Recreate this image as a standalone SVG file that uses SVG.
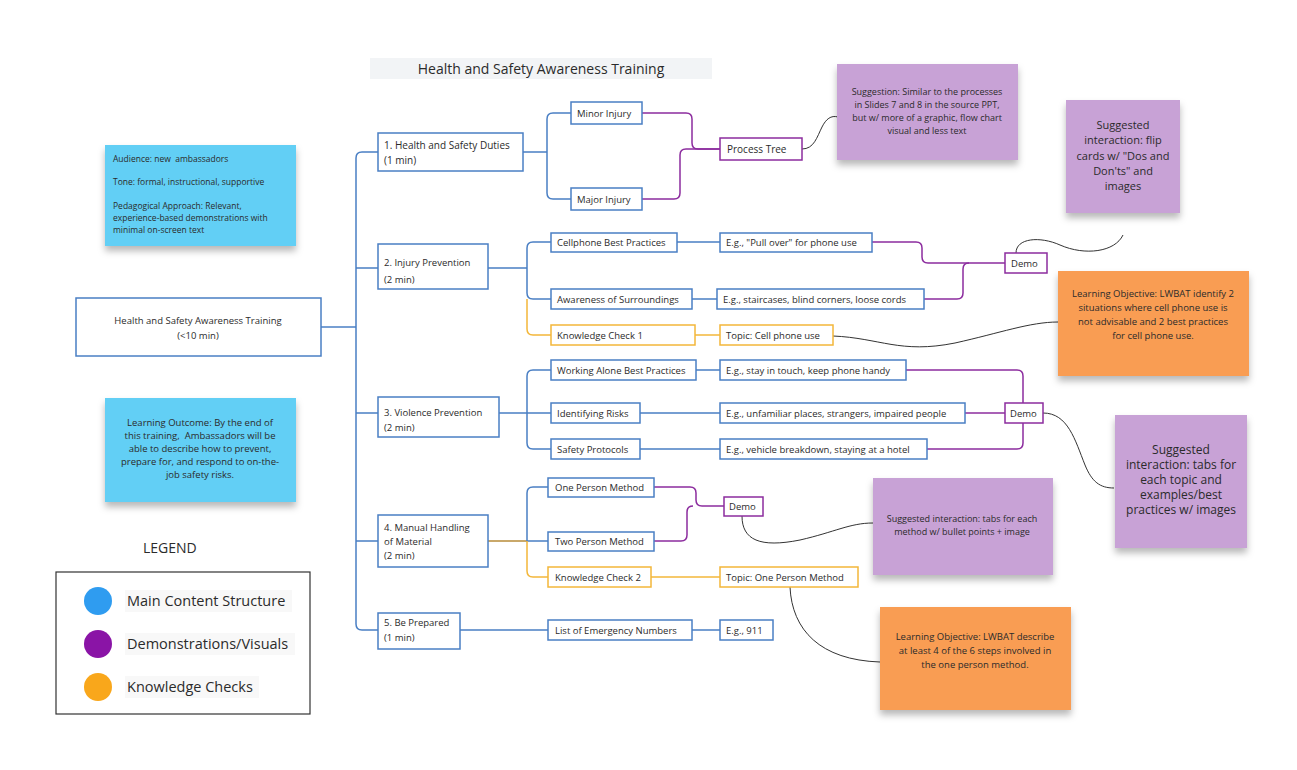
<svg xmlns="http://www.w3.org/2000/svg" width="1297" height="770" viewBox="0 0 1297 770">
<defs>
<filter id="sh" x="-10%" y="-10%" width="120%" height="130%">
<feDropShadow dx="0" dy="5" stdDeviation="3.5" flood-color="#000" flood-opacity="0.28"/>
</filter>
</defs>
<style>
text{font-family:"Open Sans","Noto Sans","Liberation Sans",sans-serif;fill:#2b2b2b}
.n{font-size:9.5px}
.bx{fill:#fff;stroke:#4a7fc4;stroke-width:1.5}
.pb{fill:#fff;stroke:#8c2c9e;stroke-width:1.5}
.ob{fill:#fff;stroke:#f3b73a;stroke-width:1.5}
.cb{fill:none;stroke:#4a7fc4;stroke-width:1.5}
.cp{fill:none;stroke:#8c2c9e;stroke-width:1.5}
.co{fill:none;stroke:#f3b73a;stroke-width:1.5}
.ck{fill:none;stroke:#333;stroke-width:1}
.nb{fill:#62cff5}
.np{fill:#c8a2d6}
.no{fill:#f99d52}
.c{text-anchor:middle}
</style>
<rect width="1297" height="770" fill="#fff"/>

<g id="title">
<rect x="370" y="58" width="342" height="21" fill="#f2f4f6"/>
<text x="541" y="74" class="c" font-size="14">Health and Safety Awareness Training</text>
</g>

<g id="connectors">
<path class="cb" d="M321 327 H356"/>
<path class="cb" d="M378 152 H362 Q356 152 356 158 V624 Q356 630 362 630 H378"/>
<path class="cb" d="M356 268 H378 M356 413 H378 M356 541 H378"/>
<path class="cb" d="M523 152 H547 M571 113 H553 Q547 113 547 119 V193 Q547 199 553 199 H571"/>
<path class="cp" d="M642 113 H686 Q692 113 692 119 V143 Q692 149 698 149 H720"/>
<path class="cp" d="M642 199 H674 Q680 199 680 193 V155 Q680 149 686 149 H720"/>
<path class="ck" d="M802 149 C814 149 817 137 822 127 C826 119 831 115 838 117"/>
<path class="cb" d="M488 268 H527 M551 242 H533 Q527 242 527 248 V293 Q527 299 533 299 H551"/>
<path class="co" d="M527 299 V329 Q527 335 533 335 H551"/>
<path class="cb" d="M677 242 H720 M692 299 H717"/>
<path class="cp" d="M872 242 H916 Q922 242 922 248 V257 Q922 263 928 263 H1005"/>
<path class="cp" d="M924 299 H957 Q963 299 963 293 V269 Q963 263 969 263"/>
<path class="co" d="M695 335 H720"/>
<path class="ck" d="M833 336 C880 338 900 354 955 343 C1000 333 1030 322 1058 322"/>
<path class="ck" d="M1016 253 C1016 238 1040 236 1060 245 C1085 256 1115 252 1123 235"/>
<path class="cb" d="M499 413 H551 M551 370 H533 Q527 370 527 376 V443 Q527 449 533 449 H551"/>
<path class="cb" d="M696 370 H720 M640 413 H720 M640 449 H720"/>
<path class="cp" d="M906 370 H1017 Q1023 370 1023 376 V403"/>
<path class="cp" d="M927 449 H1017 Q1023 449 1023 443 V423"/>
<path class="cp" d="M965 413 H1005"/>
<path class="ck" d="M1043 413 C1068 413 1075 440 1085 465 C1092 482 1100 488 1114 488"/>
<path fill="none" stroke="#c9a86a" stroke-width="2" d="M488 541 H527"/>
<path class="cb" d="M548 487 H533 Q527 487 527 493 V541 H548"/>
<path class="co" d="M527 541 V571 Q527 577 533 577 H548"/>
<path class="cp" d="M654 487 H690 Q696 487 696 493 V500 Q696 506 702 506 H724"/>
<path class="cp" d="M654 541 H681 Q687 541 687 535 V512 Q687 506 693 506"/>
<path class="co" d="M651 577 H720"/>
<path class="ck" d="M742 516 C742 540 760 548 800 540 C835 532 850 523 873 523"/>
<path class="ck" d="M790 587 C792 630 820 660 880 662"/>
<path class="cb" d="M460 630 H548 M692 630 H720"/>
</g>

<g id="note-audience">
<rect x="105" y="145" width="191" height="101" class="nb" filter="url(#sh)"/>
<text x="113" y="162" font-size="8.5">Audience: new&#160; ambassadors</text>
<text x="113" y="185" font-size="8.5">Tone: formal, instructional, supportive</text>
<text x="113" y="209" font-size="8.5">Pedagogical Approach: Relevant,</text>
<text x="113" y="221" font-size="8.5">experience-based demonstrations with</text>
<text x="113" y="233" font-size="8.5">minimal on-screen text</text>
</g>

<g id="note-outcome">
<rect x="105" y="398" width="191" height="104" class="nb" filter="url(#sh)"/>
<text class="c" x="200" y="426" font-size="9.5">Learning Outcome: By the end of</text>
<text class="c" x="200" y="439" font-size="9.5">this training,&#160; Ambassadors will be</text>
<text class="c" x="200" y="452" font-size="9.5">able to describe how to prevent,</text>
<text class="c" x="200" y="465" font-size="9.5">prepare for, and respond to on-the-</text>
<text class="c" x="200" y="478" font-size="9.5">job safety risks.</text>
</g>

<g id="main">
<rect x="76" y="298" width="245" height="58" class="bx"/>
<text class="c n" x="198" y="324">Health and Safety Awareness Training</text>
<text class="c n" x="198" y="339">(&lt;10 min)</text>
</g>

<g id="legend">
<text x="143" y="553" font-size="14">LEGEND</text>
<rect x="56" y="572" width="254" height="142" fill="#fff" stroke="#333" stroke-width="1.2"/>
<circle cx="98" cy="601" r="14" fill="#2f9cf0"/>
<circle cx="98" cy="644" r="14" fill="#8a14a6"/>
<circle cx="98" cy="687" r="14" fill="#f9a71b"/>
<rect x="125" y="590" width="167" height="22" fill="#f8f8f8"/>
<rect x="125" y="633" width="170" height="22" fill="#f8f8f8"/>
<rect x="125" y="676" width="134" height="22" fill="#f8f8f8"/>
<text x="127" y="606" font-size="14.5">Main Content Structure</text>
<text x="127" y="649" font-size="14.5">Demonstrations/Visuals</text>
<text x="127" y="692" font-size="14.5">Knowledge Checks</text>
</g>

<g id="n1">
<rect x="378" y="133" width="145" height="38" class="bx"/>
<text x="384" y="149" font-size="10">1. Health and Safety Duties</text>
<text x="384" y="164" font-size="10">(1 min)</text>
</g>
<g id="n1a"><rect x="571" y="102" width="71" height="22" class="bx"/><text class="n" x="577" y="117">Minor Injury</text></g>
<g id="n1b"><rect x="571" y="188" width="71" height="22" class="bx"/><text class="n" x="577" y="203">Major Injury</text></g>
<g id="n1c"><rect x="720" y="138" width="82" height="22" class="pb"/><text x="727" y="153" font-size="10">Process Tree</text></g>

<g id="note-suggestion">
<rect x="837" y="64" width="181" height="96" class="np" filter="url(#sh)"/>
<text class="c" x="927" y="95" font-size="9">Suggestion: Similar to the processes</text>
<text class="c" x="927" y="108" font-size="9">in Slides 7 and 8 in the source PPT,</text>
<text class="c" x="927" y="121" font-size="9">but w/ more of a graphic, flow chart</text>
<text class="c" x="927" y="134" font-size="9">visual and less text</text>
</g>

<g id="note-flip">
<rect x="1066" y="100" width="114" height="113" class="np" filter="url(#sh)"/>
<text class="c" x="1123" y="129" font-size="11">Suggested</text>
<text class="c" x="1123" y="144" font-size="11">interaction: flip</text>
<text class="c" x="1123" y="160" font-size="11">cards w/ "Dos and</text>
<text class="c" x="1123" y="175" font-size="11">Don'ts" and</text>
<text class="c" x="1123" y="190" font-size="11">images</text>
</g>

<g id="n2">
<rect x="378" y="244" width="110" height="45" class="bx"/>
<text class="n" x="384" y="266">2. Injury Prevention</text>
<text class="n" x="384" y="283">(2 min)</text>
</g>
<g id="n2a"><rect x="551" y="233" width="126" height="19" class="bx"/><text class="n" x="557" y="246">Cellphone Best Practices</text></g>
<g id="n2a1"><rect x="720" y="233" width="152" height="19" class="bx"/><text class="n" x="726" y="246">E.g., "Pull over" for phone use</text></g>
<g id="n2b"><rect x="551" y="289" width="141" height="20" class="bx"/><text class="n" x="557" y="303">Awareness of Surroundings</text></g>
<g id="n2b1"><rect x="717" y="289" width="207" height="20" class="bx"/><text class="n" x="723" y="303">E.g., staircases, blind corners, loose cords</text></g>
<g id="n2c"><rect x="551" y="325" width="144" height="20" class="ob"/><text class="n" x="557" y="339">Knowledge Check 1</text></g>
<g id="n2c1"><rect x="720" y="325" width="113" height="20" class="ob"/><text class="n" x="726" y="339">Topic: Cell phone use</text></g>
<g id="n2d"><rect x="1005" y="253" width="42" height="20" class="pb"/><text class="n" x="1011" y="267">Demo</text></g>

<g id="note-lo1">
<rect x="1058" y="271" width="191" height="105" class="no" filter="url(#sh)"/>
<text class="c" x="1153" y="297" font-size="9.5">Learning Objective: LWBAT identify 2</text>
<text class="c" x="1153" y="311" font-size="9.5">situations where cell phone use is</text>
<text class="c" x="1153" y="325" font-size="9.5">not advisable and 2 best practices</text>
<text class="c" x="1153" y="339" font-size="9.5">for cell phone use.</text>
</g>

<g id="n3">
<rect x="378" y="397" width="121" height="40" class="bx"/>
<text class="n" x="384" y="416">3. Violence Prevention</text>
<text class="n" x="384" y="431">(2 min)</text>
</g>
<g id="n3a"><rect x="551" y="360" width="145" height="20" class="bx"/><text class="n" x="557" y="374">Working Alone Best Practices</text></g>
<g id="n3a1"><rect x="720" y="360" width="186" height="20" class="bx"/><text class="n" x="726" y="374">E.g., stay in touch, keep phone handy</text></g>
<g id="n3b"><rect x="551" y="403" width="89" height="20" class="bx"/><text class="n" x="557" y="417">Identifying Risks</text></g>
<g id="n3b1"><rect x="720" y="403" width="245" height="20" class="bx"/><text class="n" x="726" y="417">E.g., unfamiliar places, strangers, impaired people</text></g>
<g id="n3c"><rect x="551" y="439" width="89" height="20" class="bx"/><text class="n" x="557" y="453">Safety Protocols</text></g>
<g id="n3c1"><rect x="720" y="439" width="207" height="20" class="bx"/><text class="n" x="726" y="453">E.g., vehicle breakdown, staying at a hotel</text></g>
<g id="n3d"><rect x="1005" y="403" width="38" height="20" class="pb"/><text class="n" x="1010" y="417">Demo</text></g>

<g id="note-tabs">
<rect x="1115" y="415" width="132" height="133" class="np" filter="url(#sh)"/>
<text class="c" x="1181" y="454" font-size="12">Suggested</text>
<text class="c" x="1181" y="469" font-size="12">interaction: tabs for</text>
<text class="c" x="1181" y="484" font-size="12">each topic and</text>
<text class="c" x="1181" y="499" font-size="12">examples/best</text>
<text class="c" x="1181" y="514" font-size="12">practices w/ images</text>
</g>

<g id="n4">
<rect x="378" y="515" width="110" height="52" class="bx"/>
<text class="n" x="384" y="531">4. Manual Handling</text>
<text class="n" x="384" y="545">of Material</text>
<text class="n" x="384" y="559">(2 min)</text>
</g>
<g id="n4a"><rect x="548" y="478" width="106" height="19" class="bx"/><text class="n" x="555" y="491">One Person Method</text></g>
<g id="n4b"><rect x="548" y="532" width="106" height="19" class="bx"/><text class="n" x="555" y="545">Two Person Method</text></g>
<g id="n4c"><rect x="548" y="567" width="103" height="20" class="ob"/><text class="n" x="555" y="581">Knowledge Check 2</text></g>
<g id="n4c1"><rect x="720" y="567" width="138" height="20" class="ob"/><text class="n" x="726" y="581">Topic: One Person Method</text></g>
<g id="n4d"><rect x="724" y="497" width="39" height="19" class="pb"/><text class="n" x="729" y="510">Demo</text></g>

<g id="note-method">
<rect x="873" y="478" width="180" height="97" class="np" filter="url(#sh)"/>
<text class="c" x="962" y="522" font-size="9">Suggested interaction: tabs for each</text>
<text class="c" x="962" y="535" font-size="9">method w/ bullet points + image</text>
</g>

<g id="note-lo2">
<rect x="880" y="607" width="191" height="103" class="no" filter="url(#sh)"/>
<text class="c" x="975" y="640" font-size="9.5">Learning Objective: LWBAT describe</text>
<text class="c" x="975" y="654" font-size="9.5">at least 4 of the 6 steps involved in</text>
<text class="c" x="975" y="668" font-size="9.5">the one person method.</text>
</g>

<g id="n5">
<rect x="378" y="613" width="82" height="36" class="bx"/>
<text class="n" x="384" y="626">5. Be Prepared</text>
<text class="n" x="384" y="641">(1 min)</text>
</g>
<g id="n5a"><rect x="548" y="620" width="144" height="20" class="bx"/><text class="n" x="555" y="634">List of Emergency Numbers</text></g>
<g id="n5a1"><rect x="720" y="620" width="53" height="20" class="bx"/><text class="n" x="726" y="634">E.g., 911</text></g>
</svg>
